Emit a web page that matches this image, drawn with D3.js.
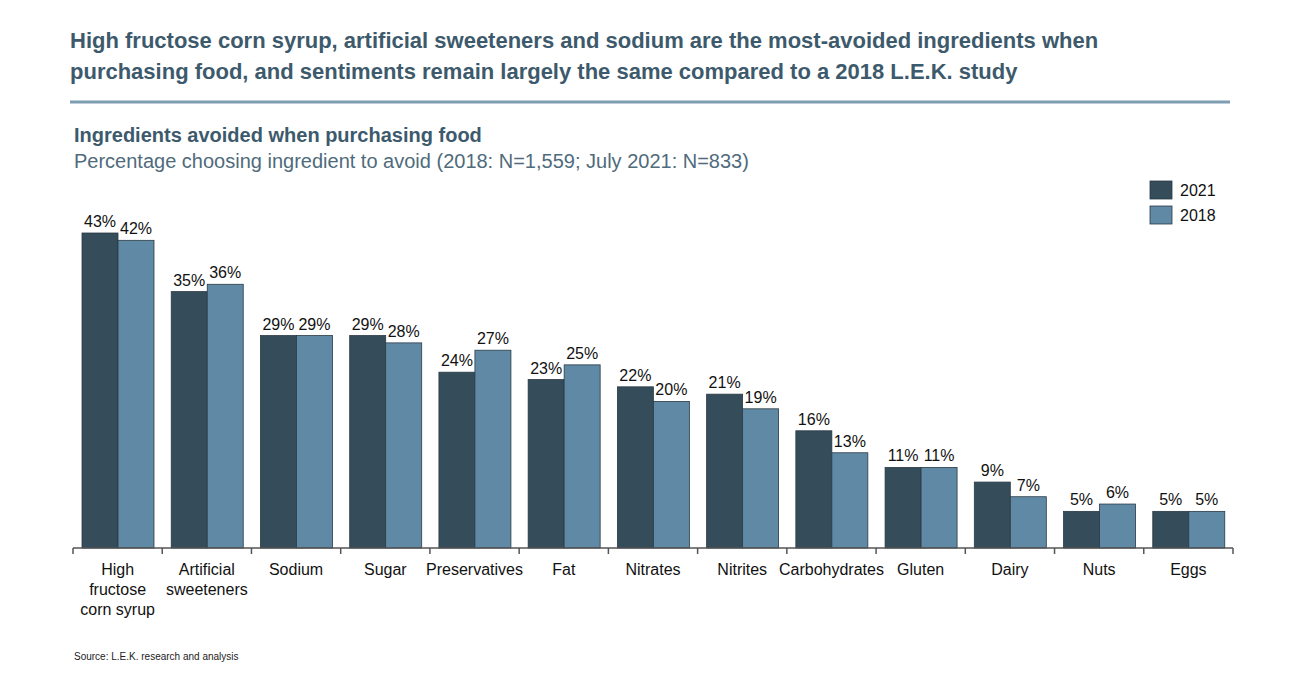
<!DOCTYPE html><html><head><script src="https://cdn.jsdelivr.net/npm/d3@7"></script>
<style>body{margin:0;background:#fff;font-family:"Liberation Sans",Arial,sans-serif}</style></head><body><svg id="c" width="1300" height="692"></svg>
<script>
const categories=[["High","fructose","corn syrup"],["Artificial","sweeteners"],["Sodium"],["Sugar"],["Preservatives"],["Fat"],["Nitrates"],["Nitrites"],["Carbohydrates"],["Gluten"],["Dairy"],["Nuts"],["Eggs"]];
const v2021=[43,35,29,29,24,23,22,21,16,11,9,5,5];
const v2018=[42,36,29,28,27,25,20,19,13,11,7,6,5];
const series=["2021","2018"];
const colors=["#354c5b","#6089a6"];
const svg=d3.select("#c");
const tc="#3d5a6c";
svg.append("text").attr("x",70).attr("y",48).attr("font-size",22).attr("font-weight","bold").attr("fill",tc).text("High fructose corn syrup, artificial sweeteners and sodium are the most-avoided ingredients when");
svg.append("text").attr("x",70).attr("y",79).attr("font-size",22).attr("font-weight","bold").attr("fill",tc).text("purchasing food, and sentiments remain largely the same compared to a 2018 L.E.K. study");
svg.append("line").attr("x1",70).attr("x2",1230).attr("y1",102).attr("y2",102).attr("stroke","#7d9db2").attr("stroke-width",3);
svg.append("text").attr("x",74).attr("y",142).attr("font-size",20).attr("font-weight","bold").attr("fill",tc).text("Ingredients avoided when purchasing food");
svg.append("text").attr("x",74).attr("y",168).attr("font-size",20).attr("fill","#4f6b7c").text("Percentage choosing ingredient to avoid (2018: N=1,559; July 2021: N=833)");
const x=d3.scaleBand().domain(d3.range(13)).range([73,1233]);
const y=d3.scaleLinear().domain([0,43]).range([548,233]);
const inner=d3.scaleBand().domain([0,1]).range([0,x.bandwidth()]).paddingOuter(0.1);
const g=svg.append("g");
[v2021,v2018].forEach((vals,s)=>{
 vals.forEach((v,i)=>{
  const bx=x(i)+9+s*36;
  g.append("rect").attr("x",bx).attr("y",y(v)).attr("width",36).attr("height",y(0)-y(v)).attr("fill",colors[s]).attr("stroke","#2a3a45").attr("stroke-width",0.8);
  g.append("text").attr("x",bx+18).attr("y",y(v)-6).attr("text-anchor","middle").attr("font-size",16).attr("fill","#111").text(v+"%");
 });
});
const ax=svg.append("g").attr("transform","translate(0,548)");
ax.append("line").attr("x1",73).attr("x2",1233).attr("stroke","#555").attr("stroke-width",1.5);
d3.range(14).forEach(i=>{const xx=73+i*x.bandwidth();ax.append("line").attr("x1",xx).attr("x2",xx).attr("y2",6).attr("stroke","#555").attr("stroke-width",1.5);});
categories.forEach((c,i)=>{c.forEach((l,j)=>svg.append("text").attr("x",x(i)+x.bandwidth()/2).attr("y",575+j*20).attr("text-anchor","middle").attr("font-size",16).attr("fill","#111").text(l));});
series.forEach((s,i)=>{svg.append("rect").attr("x",1150).attr("y",181+i*25).attr("width",22).attr("height",18).attr("fill",colors[i]).attr("stroke","#2a3a45").attr("stroke-width",0.8);
svg.append("text").attr("x",1180).attr("y",196+i*25).attr("font-size",16).attr("fill","#111").text(s);});
svg.append("text").attr("x",74).attr("y",660).attr("font-size",10).attr("fill","#222").text("Source: L.E.K. research and analysis");
</script></body></html>
